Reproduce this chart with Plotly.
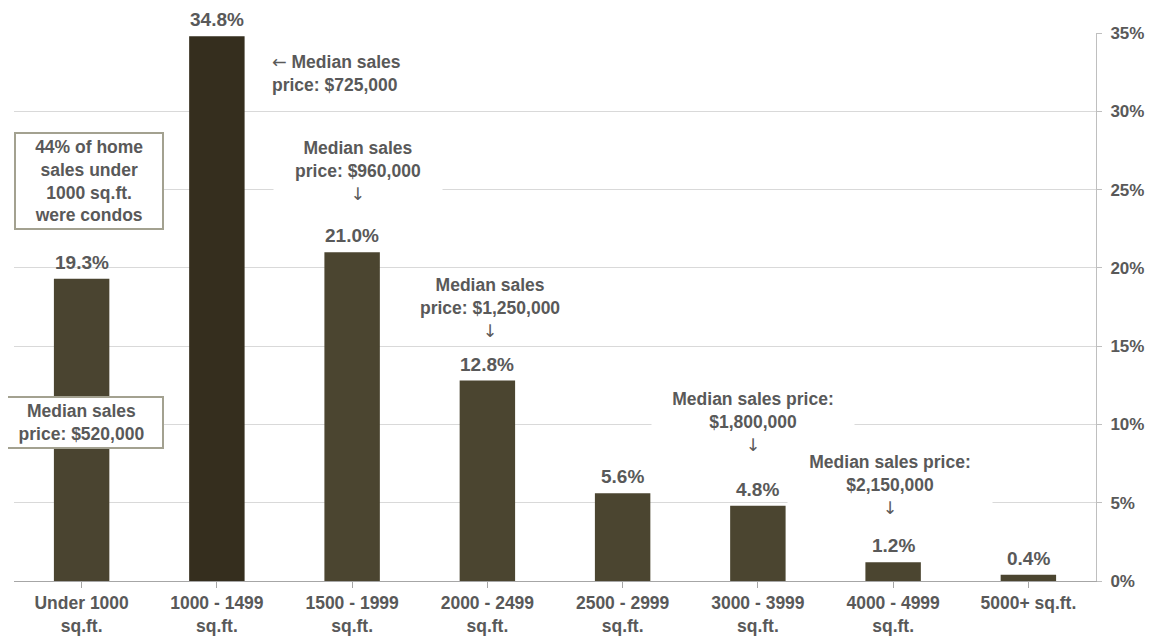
import plotly.graph_objects as go

categories = ["Under 1000<br>sq.ft.", "1000 - 1499<br>sq.ft.", "1500 - 1999<br>sq.ft.",
              "2000 - 2499<br>sq.ft.", "2500 - 2999<br>sq.ft.", "3000 - 3999<br>sq.ft.",
              "4000 - 4999<br>sq.ft.", "5000+ sq.ft."]
shares = [19.3, 34.8, 21.0, 12.8, 5.6, 4.8, 1.2, 0.4]
bar_colors = ["#4a4430", "#352e1e", "#4b4530", "#4b4530", "#4b4530", "#4b4530", "#4b4530", "#4b4530"]
y_ticks = [0, 5, 10, 15, 20, 25, 30, 35]
y_tick_labels = ["0%", "5%", "10%", "15%", "20%", "25%", "30%", "35%"]

TXT = "#595959"
FONT = "Liberation Sans, Arial, sans-serif"
DOWN = '<span style="font-family:DejaVu Sans;font-weight:normal">↓</span>'
LEFT = '<span style="font-family:DejaVu Sans;font-weight:normal">←</span>'

fig = go.Figure()
fig.add_trace(go.Bar(
    x=list(range(len(categories))), y=shares,
    marker=dict(color=bar_colors, line=dict(width=0)),
    width=0.41, hoverinfo="skip",
))

annotations = []
for i, v in enumerate(shares):
    annotations.append(dict(
        x=i, y=v, xref="x", yref="y", text=f"{v:.1f}%", showarrow=False,
        yanchor="bottom", yshift=4,
        font=dict(family=FONT, size=19, color=TXT, weight="bold"),
    ))

def note(x, y, text, **kw):
    d = dict(x=x, y=y, xref="x", yref="y", text=text, showarrow=False,
             font=dict(family=FONT, size=17.5, color=TXT, weight="bold"))
    d.update(kw)
    annotations.append(d)

note(0.056, 25.55, "44% of home<br>sales under<br>1000 sq.ft.<br>were condos",
     bgcolor="white", bordercolor="#a3a190", borderwidth=2, borderpad=3, width=140)
note(0.0, 10.1, "Median sales<br>price: $520,000",
     bgcolor="white", bordercolor="#a3a190", borderwidth=2, borderpad=3, width=155)
note(1.396, 32.4, LEFT + " Median sales<br>price: $725,000", xanchor="left", align="left")
note(2.04, 26.2, "Median sales<br>price: $960,000<br>" + DOWN, bgcolor="white", width=166, borderpad=1)
note(3.019, 17.45, "Median sales<br>price: $1,250,000<br>" + DOWN)
note(4.967, 10.15, "Median sales price:<br>$1,800,000<br>" + DOWN, bgcolor="white", width=200, borderpad=1)
note(5.98, 6.13, "Median sales price:<br>$2,150,000<br>" + DOWN, bgcolor="white", width=202, borderpad=1)

# page body adds an 8px offset; margins compensate so the plot area lands at x 14-1096, y 33-581
fig.update_layout(
    width=1156, height=640,
    margin=dict(l=6, r=68, t=25, b=67, autoexpand=False),
    paper_bgcolor="white", plot_bgcolor="white",
    showlegend=False,
    bargap=0.59,
    font=dict(family=FONT, color=TXT),
    annotations=annotations,
    xaxis=dict(
        tickmode="array", tickvals=list(range(len(categories))), ticktext=categories,
        range=[-0.5, len(categories) - 0.5], automargin=False,
        showline=True, linecolor="#a6a6a6", linewidth=1,
        ticks="outside", ticklen=6, tickcolor="#a6a6a6", tickson="boundaries",
        showgrid=False, zeroline=False,
        tickfont=dict(family=FONT, size=17.5, color=TXT, weight="bold"),
    ),
    yaxis=dict(
        side="right", range=[0, 35], tickmode="array", tickvals=y_ticks, ticktext=y_tick_labels,
        automargin=False,
        showline=True, linecolor="#bfbfbf", linewidth=1,
        ticks="outside", ticklen=5, tickcolor="#bfbfbf",
        showgrid=True, gridcolor="#d9d9d9", gridwidth=1, zeroline=False,
        ticklabelstandoff=5,
        tickfont=dict(family=FONT, size=17, color=TXT, weight="bold"),
    ),
)
fig.update_traces(cliponaxis=False)

fig.write_html("out.html")
